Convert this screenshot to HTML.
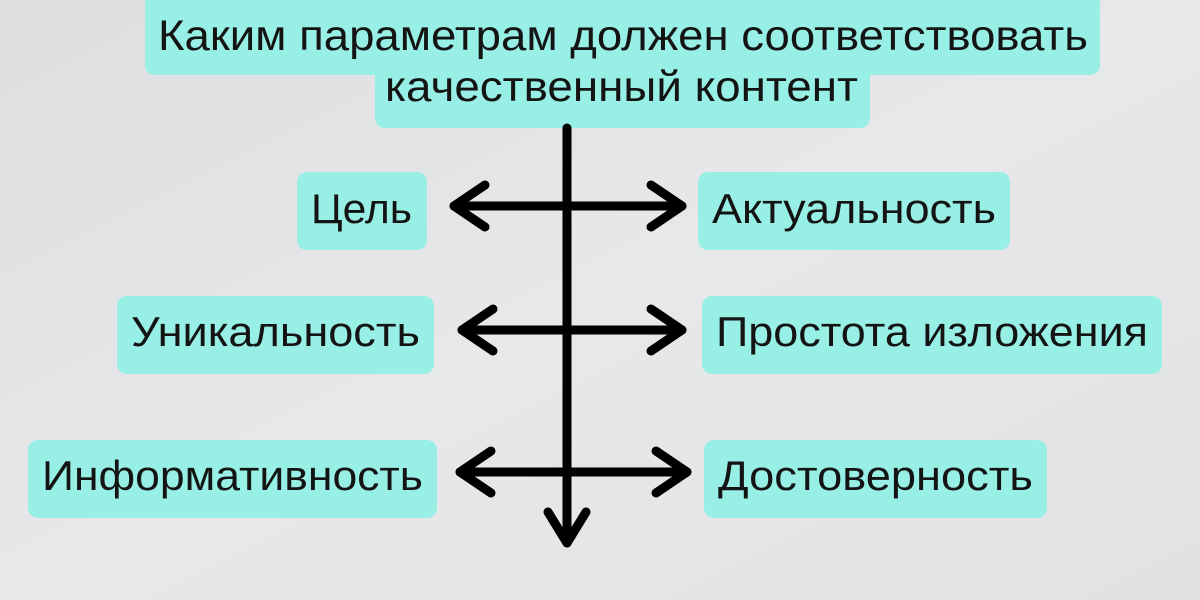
<!DOCTYPE html>
<html><head><meta charset="utf-8"><style>
html,body{margin:0;padding:0;width:1200px;height:600px;overflow:hidden;background:#e3e5e7}
svg{display:block}
text{font-family:"Liberation Sans Narrow","Liberation Sans",sans-serif;fill:#141414}
</style></head><body>
<svg width="1200" height="600" viewBox="0 0 1200 600">
<defs><linearGradient id="bg" x1="0" y1="0" x2="1" y2="1"><stop offset="0" stop-color="#dcdee0"/><stop offset="0.5" stop-color="#e6e8ea"/><stop offset="1" stop-color="#e0e2e4"/></linearGradient></defs>
<rect width="1200" height="600" fill="url(#bg)"/>
<g fill="#98efe5">
<rect x="145" y="-10" width="955" height="85" rx="10"/>
<rect x="375" y="50" width="495" height="78" rx="10"/>
<rect x="297" y="172" width="130" height="78" rx="10"/>
<rect x="117" y="296" width="317" height="78" rx="10"/>
<rect x="28" y="440" width="409" height="78" rx="10"/>
<rect x="698" y="172" width="312" height="78" rx="10"/>
<rect x="702" y="296" width="460" height="78" rx="10"/>
<rect x="704" y="440" width="343" height="78" rx="10"/>
</g>
<g font-size="43">
<text x="158" y="50" textLength="930" lengthAdjust="spacingAndGlyphs">Каким параметрам должен соответствовать</text>
<text x="385" y="101" textLength="473" lengthAdjust="spacingAndGlyphs">качественный контент</text>
</g>
<g font-size="42">
<text x="311" y="223" textLength="101" lengthAdjust="spacingAndGlyphs">Цель</text>
<text x="131" y="346" textLength="289" lengthAdjust="spacingAndGlyphs">Уникальность</text>
<text x="42" y="490" textLength="381" lengthAdjust="spacingAndGlyphs">Информативность</text>
<text x="712" y="223" textLength="284" lengthAdjust="spacingAndGlyphs">Актуальность</text>
<text x="716" y="346" textLength="432" lengthAdjust="spacingAndGlyphs">Простота изложения</text>
<text x="718" y="490" textLength="315" lengthAdjust="spacingAndGlyphs">Достоверность</text>
</g>
<g stroke="#000" stroke-width="9" stroke-linecap="round" stroke-linejoin="round" fill="none">
<line x1="567" y1="128" x2="567" y2="543"/>
<polyline points="548,512 567,543 586,512"/>
<line x1="454" y1="206" x2="682" y2="206"/>
<polyline points="485,185 454,206 485,227"/>
<polyline points="651,185 682,206 651,227"/>
<line x1="462" y1="330" x2="682" y2="330"/>
<polyline points="493,309 462,330 493,351"/>
<polyline points="651,309 682,330 651,351"/>
<line x1="460" y1="472" x2="687" y2="472"/>
<polyline points="491,451 460,472 491,493"/>
<polyline points="656,451 687,472 656,493"/>
</g>
</svg>
</body></html>
